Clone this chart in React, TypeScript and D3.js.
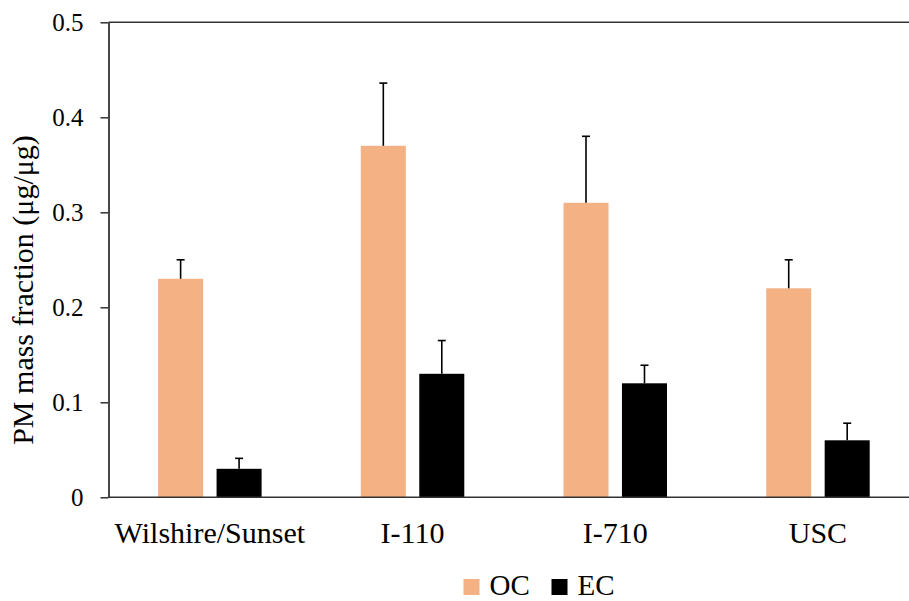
import React, { useEffect, useRef } from "react";
import * as d3 from "d3";

// data
const categories = ["Wilshire/Sunset", "I-110", "I-710", "USC"];
const seriesNames = ["OC", "EC"];
const ocValues = [0.23, 0.37, 0.31, 0.22];
const ocErrors = [0.02, 0.066, 0.07, 0.03];
const ecValues = [0.03, 0.13, 0.12, 0.06];
const ecErrors = [0.011, 0.035, 0.019, 0.018];
const yTicks = [0, 0.1, 0.2, 0.3, 0.4, 0.5];

const colors: Record<string, string> = { OC: "#F4B183", EC: "#000000" };
const FONT = "'Liberation Serif', 'Times New Roman', serif";

export default function App() {
  const ref = useRef<SVGSVGElement | null>(null);

  useEffect(() => {
    const width = 909;
    const height = 601;
    const left = 108.5;
    const step = 202.7;

    const svg = d3.select(ref.current);
    svg.selectAll("*").remove();
    svg.attr("width", width).attr("height", height);

    const y = d3.scaleLinear().domain([0, 0.5]).range([497.3, 22.3]);
    const x = d3
      .scaleBand<string>()
      .domain(categories)
      .range([left, left + step * categories.length])
      .paddingInner(0)
      .paddingOuter(0);
    const xs = d3
      .scaleBand<string>()
      .domain(seriesNames)
      .range([0, 103.5])
      .paddingInner(0.23);

    const rows = categories.map((c, i) => ({
      cat: c,
      items: [
        { key: "OC", v: ocValues[i], e: ocErrors[i] },
        { key: "EC", v: ecValues[i], e: ecErrors[i] },
      ],
    }));

    // bars
    const groups = svg
      .append("g")
      .selectAll("g")
      .data(rows)
      .enter()
      .append("g")
      .attr("transform", (d) => "translate(" + (x(d.cat)! + x.bandwidth() / 2 - 51.75) + ",0)");

    groups
      .selectAll("rect")
      .data((d) => d.items)
      .enter()
      .append("rect")
      .attr("x", (d) => xs(d.key)!)
      .attr("y", (d) => y(d.v))
      .attr("width", xs.bandwidth())
      .attr("height", (d) => y(0) - y(d.v))
      .attr("fill", (d) => colors[d.key]);

    // error bars (upper only)
    const err = groups
      .selectAll("g.err")
      .data((d) => d.items)
      .enter()
      .append("g")
      .attr("class", "err")
      .attr("stroke", "#000")
      .attr("stroke-width", 1.6);
    err
      .append("line")
      .attr("x1", (d) => xs(d.key)! + xs.bandwidth() / 2)
      .attr("x2", (d) => xs(d.key)! + xs.bandwidth() / 2)
      .attr("y1", (d) => y(d.v))
      .attr("y2", (d) => y(d.v + d.e));
    err
      .append("line")
      .attr("x1", (d) => xs(d.key)! + xs.bandwidth() / 2 - 4)
      .attr("x2", (d) => xs(d.key)! + xs.bandwidth() / 2 + 4)
      .attr("y1", (d) => y(d.v + d.e))
      .attr("y2", (d) => y(d.v + d.e));

    // y axis
    const yAxis = d3
      .axisLeft(y)
      .tickValues(yTicks)
      .tickFormat((d) => (d === 0 ? "0" : d3.format(".1f")(d as number)))
      .tickSize(8)
      .tickSizeOuter(0)
      .tickPadding(17);
    const ya = svg.append("g").attr("transform", "translate(" + left + ",0)").call(yAxis);
    ya.selectAll("line").attr("stroke", "#333").attr("stroke-width", 1.5);
    ya.select(".domain").attr("stroke", "#333").attr("stroke-width", 1.8);
    ya.selectAll("text")
      .attr("font-family", FONT)
      .attr("font-size", 25)
      .attr("fill", "#000");

    // x axis line and top border
    svg
      .append("line")
      .attr("x1", left)
      .attr("x2", width)
      .attr("y1", y(0))
      .attr("y2", y(0))
      .attr("stroke", "#333")
      .attr("stroke-width", 1.5);
    svg
      .append("line")
      .attr("x1", left)
      .attr("x2", width)
      .attr("y1", y(0.5))
      .attr("y2", y(0.5))
      .attr("stroke", "#333")
      .attr("stroke-width", 1.5);

    // category labels
    svg
      .append("g")
      .selectAll("text")
      .data(categories)
      .enter()
      .append("text")
      .text((d) => d)
      .attr("x", (d) => x(d)! + x.bandwidth() / 2)
      .attr("y", 543)
      .attr("text-anchor", "middle")
      .attr("font-family", FONT)
      .attr("font-size", 30)
      .attr("fill", "#000");

    // y title
    svg
      .append("text")
      .text("PM mass fraction (μg/μg)")
      .attr("transform", "translate(33,290) rotate(-90)")
      .attr("text-anchor", "middle")
      .attr("font-family", FONT)
      .attr("font-size", 30)
      .attr("fill", "#000");

    // legend
    const legendX = [463.5, 551.5];
    const leg = svg
      .append("g")
      .selectAll("g")
      .data(seriesNames)
      .enter()
      .append("g")
      .attr("transform", (d, i) => "translate(" + legendX[i] + ",579)");
    leg
      .append("rect")
      .attr("width", 16)
      .attr("height", 16)
      .attr("fill", (d) => colors[d]);
    leg
      .append("text")
      .text((d) => d)
      .attr("x", 26)
      .attr("y", 15.5)
      .attr("font-family", FONT)
      .attr("font-size", 29)
      .attr("fill", "#000");
  }, []);

  return (
    <div style={{ position: "absolute", left: 0, top: 0, width: 909, height: 601, background: "#fff" }}>
      <svg ref={ref} style={{ display: "block" }} />
    </div>
  );
}
